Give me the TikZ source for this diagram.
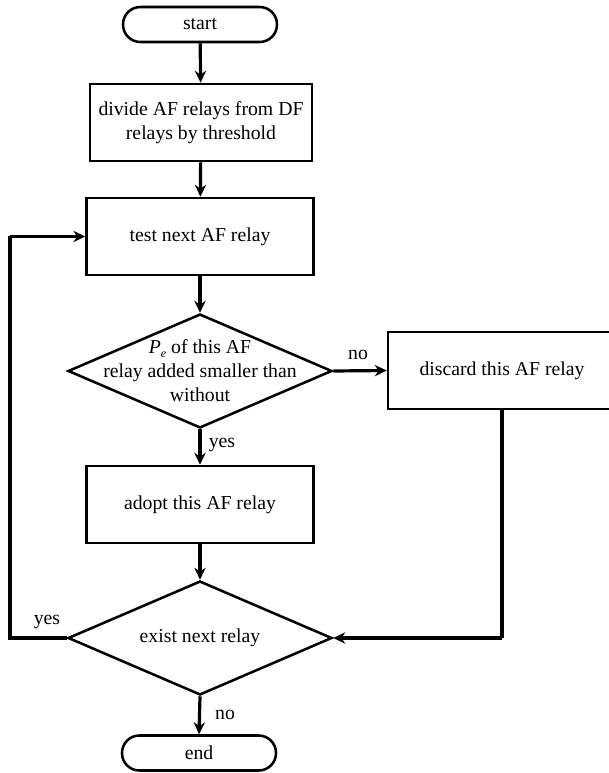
\documentclass[tikz,border=0pt]{standalone}
\usepackage{fontspec}
\setmainfont{Liberation Serif}
\usetikzlibrary{shapes.geometric,arrows.meta}
\begin{document}
\begin{tikzpicture}[x=0.75pt,y=-0.75pt,
  font=\fontsize{14.8}{18}\selectfont,
  boxnode/.style={draw,line width=1.9pt,rectangle,minimum height=57.75pt,align=center,inner sep=2pt},
  termnode/.style={draw,line width=1.9pt,rectangle,rounded corners=13pt,minimum width=115.5pt,minimum height=26.25pt,inner sep=0pt},
  decnode/.style={draw,line width=1.9pt,diamond,minimum width=198pt,minimum height=85.5pt,inner sep=0pt},
  conn/.style={line width=2.4pt,-{Stealth[length=9pt,width=8.5pt,inset=3pt]}},
  plainline/.style={line width=2.4pt},
  lbl/.style={inner sep=0pt}]
\useasboundingbox (0,0) rectangle (609,773);
\node[termnode] (start) at (200,24.5) {start};
\node[boxnode,minimum width=166.5pt] (divide) at (201,122.5) {divide AF relays from DF\\relays by threshold};
\node[boxnode,minimum width=170.25pt] (test) at (200,236.5) {test next AF relay};
\node[decnode] (d1) at (200,371) {};
\node[align=center,inner sep=0pt] (d1text) at (200,371) {\textit{P}\raisebox{-0.35ex}{\fontsize{9}{10}\selectfont\itshape e} of this AF\\relay added smaller than\\without};
\node[boxnode,minimum width=171pt] (discard) at (502,370.5) {discard this AF relay};
\node[boxnode,minimum width=170.25pt] (adopt) at (200,504.5) {adopt this AF relay};
\node[decnode] (d2) at (200,638) {};
\node[inner sep=0pt] (d2text) at (200,638) {exist next relay};
\node[termnode] (end) at (199,753) {end};
\coordinate (loopA) at (10,638);
\coordinate (loopB) at (10,236.5);
\coordinate (discA) at (502,638);
\node[lbl] (no1) at (358,355) {no};
\node[lbl] (yes1) at (222,445) {yes};
\node[lbl] (yes2) at (47,622) {yes};
\node[lbl] (no2) at (225,715) {no};
\draw[conn] (start) -- (divide);
\draw[conn] (divide) -- (test);
\draw[conn] (test) -- (d1);
\draw[conn] (d1.east) -- (discard.west);
\draw[conn] (d1.south) -- (adopt.north);
\draw[conn] (adopt) -- (d2.north);
\draw[conn] (d2.south) -- (end.north);
\draw[plainline] (d2.west) -- (loopA) -- (loopB);
\draw[conn] (loopB) -- (test.west);
\draw[plainline] (discard.south) -- (discA);
\draw[conn] (discA) -- (d2.east);
\end{tikzpicture}
\end{document}
